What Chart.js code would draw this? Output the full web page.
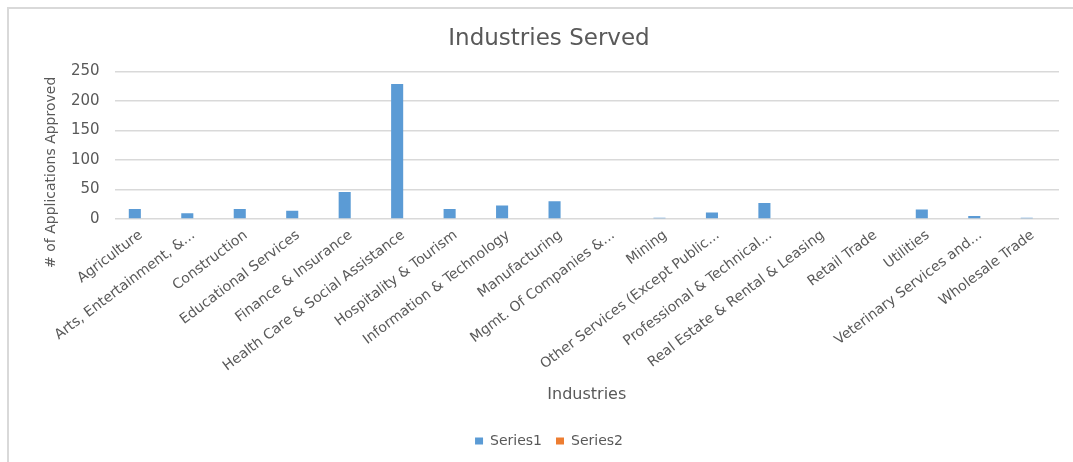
<!DOCTYPE html>
<html>
<head>
<meta charset="utf-8">
<script src="https://cdn.jsdelivr.net/npm/chart.js@4.4.1/dist/chart.umd.min.js"></script>
<style>
  html, body { margin: 0; padding: 0; background: #fff; }
  #cadre {
    position: absolute; left: 7px; top: 7px; width: 1066px; height: 455px;
    border-left: 2px solid #d9d9d9; border-top: 2px solid #d9d9d9;
    box-sizing: border-box;
  }
  #zone { position: absolute; left: 2px; top: 2px; width: 1062px; height: 451px; }
</style>
</head>
<body>
<div id="cadre"><div id="zone"><canvas id="chart-industries"></canvas></div></div>
<script>
/* ── Données ──────────────────────────────────────────────── */
const CATEGORIES = [
  'Agriculture', 'Arts, Entertainment, &...', 'Construction', 'Educational Services',
  'Finance & Insurance', 'Health Care & Social Assistance', 'Hospitality & Tourism',
  'Information & Technology', 'Manufacturing', 'Mgmt. Of Companies &...', 'Mining',
  'Other Services (Except Public...', 'Professional & Technical...',
  'Real Estate & Rental & Leasing', 'Retail Trade', 'Utilities',
  'Veterinary Services and...', 'Wholesale Trade',
];
const SERIES1 = [17, 10, 17, 14, 46, 229, 17, 23, 30, 0, 2, 11, 27, 0, 0, 16, 5, 2];
const SERIES2 = [null, null, null, null, null, null, null, null, null,
                 null, null, null, null, null, null, null, null, null];
const Y_TICKS = [0, 50, 100, 150, 200, 250];

const GRIS_TEXTE = '#595959';
const POLICE = "'DejaVu Sans', sans-serif";
const TITRE_Y = '# of Applications Approved';

/* ── Titre de l'axe Y, décalé vers le bas comme dans Excel ── */
const titreAxeY = {
  id: 'titreAxeY',
  afterDraw(chart) {
    const { ctx, chartArea } = chart;
    const yc = (chartArea.top + chartArea.bottom) / 2 + 27;
    ctx.save();
    ctx.translate(40, yc);
    ctx.rotate(-Math.PI / 2);
    ctx.fillStyle = GRIS_TEXTE;
    ctx.font = `14px ${POLICE}`;
    ctx.textAlign = 'center';
    ctx.textBaseline = 'middle';
    ctx.fillText(TITRE_Y, 0, 0);
    ctx.restore();
  },
};

/* ── Graphique ────────────────────────────────────────────── */
new Chart(document.getElementById('chart-industries').getContext('2d'), {
  type: 'bar',
  data: {
    labels: CATEGORIES,
    datasets: [
      { label: 'Series1', data: SERIES1, backgroundColor: '#5b9bd5' },
      { label: 'Series2', data: SERIES2, backgroundColor: '#ed7d31' },
    ],
  },
  plugins: [titreAxeY],
  options: {
    responsive          : true,
    maintainAspectRatio : false,
    animation           : false,
    datasets: { bar: { categoryPercentage: 0.46, barPercentage: 1.0 } },
    layout: { padding: { left: 28, right: 14, top: 0, bottom: 4 } },
    plugins: {
      title: {
        display : true,
        text    : 'Industries Served',
        color   : GRIS_TEXTE,
        font    : { family: POLICE, size: 23, weight: 'normal' },
        padding : { top: 14, bottom: 19 },
      },
      legend: {
        position : 'bottom',
        labels   : {
          color     : GRIS_TEXTE,
          boxWidth  : 8,
          boxHeight : 7,
          padding   : 14,
          font      : { family: POLICE, size: 14 },
        },
      },
      tooltip: { enabled: false },
    },
    scales: {
      x: {
        grid   : { display: false },
        border : { display: false },
        ticks  : {
          color       : GRIS_TEXTE,
          font        : { family: POLICE, size: 14 },
          minRotation : 37,
          maxRotation : 37,
          autoSkip    : false,
          padding     : 0,
        },
        title: {
          display : true,
          text    : 'Industries',
          color   : GRIS_TEXTE,
          font    : { family: POLICE, size: 16 },
          padding : { top: 10, bottom: 16 },
        },
      },
      y: {
        min: 0, max: 250,
        afterBuildTicks: axe => { axe.ticks = Y_TICKS.map(v => ({ value: v })); },
        afterFit: axe => { axe.width += 17; },   /* place pour le titre dessiné à part */
        grid   : { color: '#d9d9d9', lineWidth: 1.5, drawTicks: false },
        border : { display: false },
        ticks  : {
          color   : GRIS_TEXTE,
          font    : { family: POLICE, size: 15 },
          padding : 15,
        },
      },
    },
  },
});
</script>
</body>
</html>
